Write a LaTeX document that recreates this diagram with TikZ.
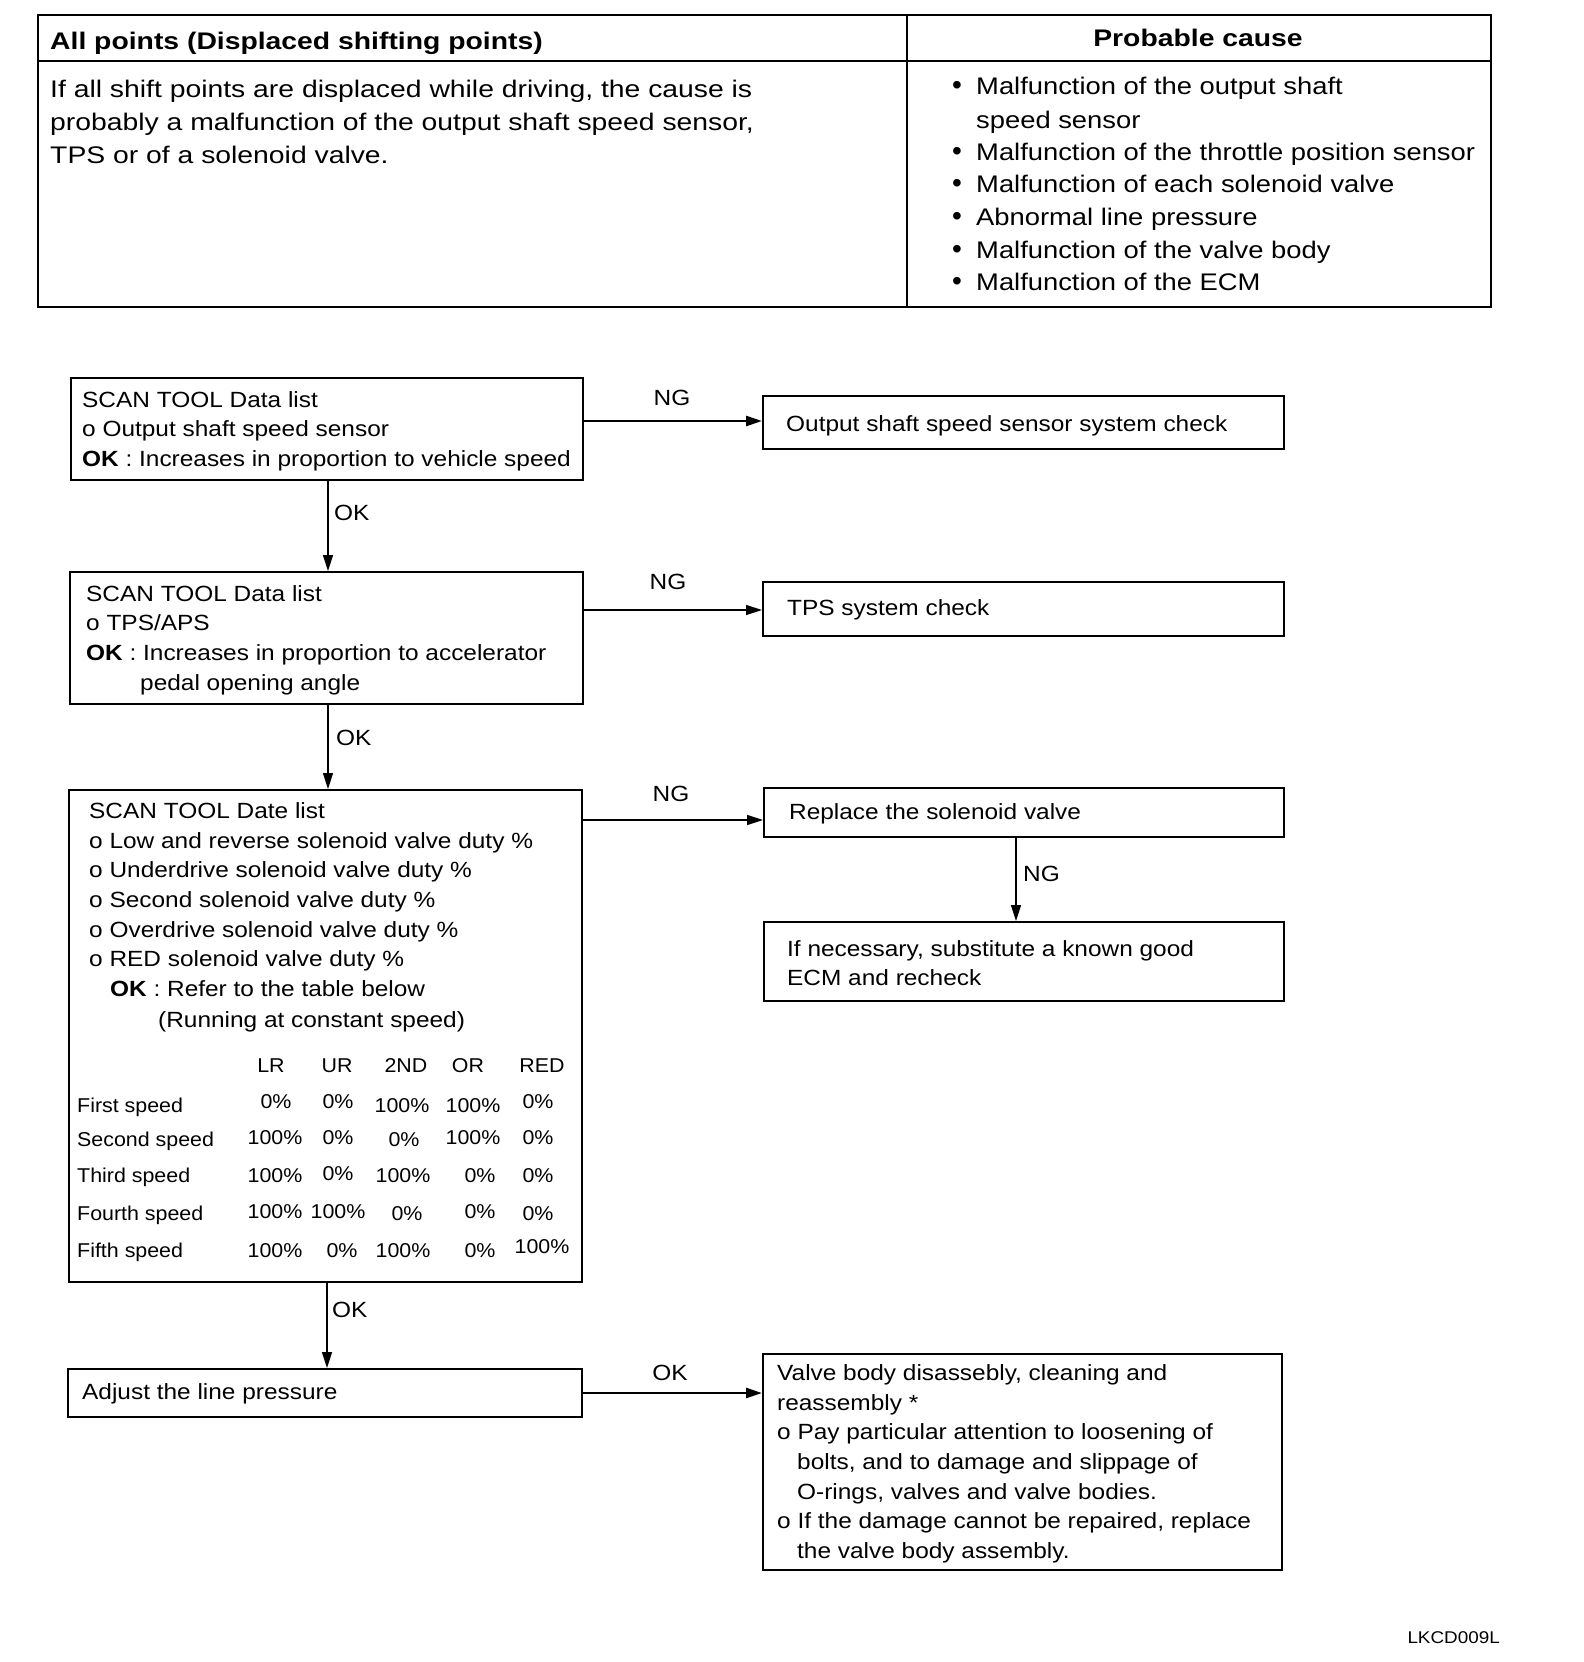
\documentclass[tikz,border=0pt]{standalone}
\usepackage{fontspec}
\setmainfont{Liberation Sans}
\newfontfamily\topf[FakeStretch=1.18]{Liberation Sans}
\newfontfamily\rightf[FakeStretch=1.14]{Liberation Sans}
\newfontfamily\flowf[FakeStretch=1.11]{Liberation Sans}
\newfontfamily\tabf[FakeStretch=1.07]{Liberation Sans}
\usetikzlibrary{arrows.meta}
\begin{document}
\begin{tikzpicture}[x=1pt,y=-1pt,
  box/.style={draw, line width=1.6pt, rectangle, anchor=north west, inner sep=0pt},
  ttxt/.style={anchor=base west, inner sep=0pt, font=\topf\fontsize{24}{28}\selectfont},
  rtxt/.style={anchor=base west, inner sep=0pt, font=\rightf\fontsize{24}{28}\selectfont},
  txt/.style={anchor=base west, inner sep=0pt, font=\flowf\fontsize{22}{26}\selectfont},
  tab/.style={anchor=base, inner sep=0pt, font=\tabf\fontsize{20}{24}\selectfont},
  tabl/.style={anchor=base west, inner sep=0pt, font=\tabf\fontsize{20}{24}\selectfont},
  lbl/.style={anchor=base, inner sep=0pt, font=\flowf\fontsize{22}{26}\selectfont},
  arr/.style={-{Triangle[length=16pt,width=10pt]}, line width=1.4pt},
  arrb/.style={-{Triangle[length=16pt,width=10pt]}, line width=2.6pt}
]
\useasboundingbox (0,0) rectangle (1584,1662);
% ---------- top table ----------
\node[box, minimum width=1453, minimum height=292] (tbl) at (37,14) {};
\draw[line width=1.6pt] (37,61) -- (1490,61);
\draw[line width=1.6pt] (907,14) -- (907,306);
\node[ttxt, font=\topf\fontsize{24}{28}\selectfont\bfseries] (h1) at (50,49) {All points (Displaced shifting points)};
\node[anchor=base, inner sep=0pt, font=\topf\fontsize{24}{28}\selectfont\bfseries] (h2) at (1198,47) {Probable cause};
\node[ttxt] (d1) at (50,97) {If all shift points are displaced while driving, the cause is};
\node[ttxt] (d2) at (50,130) {probably a malfunction of the output shaft speed sensor,};
\node[ttxt] (d3) at (50,163) {TPS or of a solenoid valve.};
\foreach \y/\t [count=\i] in {95/Malfunction of the output shaft, 160/Malfunction of the throttle position sensor, 192/Malfunction of each solenoid valve, 225/Abnormal line pressure, 258/Malfunction of the valve body, 290/Malfunction of the ECM}{
  \node[anchor=base, inner sep=0pt, font=\fontsize{28}{28}\selectfont] (bu\i) at (957,\y) {\textbullet};
  \node[rtxt] (pc\i) at (976,\y) {\t};
}
\node[rtxt] (pc0) at (976,128) {speed sensor};
% ---------- flowchart ----------
% box 1
\node[box, minimum width=512, minimum height=102] (b1) at (70,377) {};
\node[txt] (b1a) at (82,407) {SCAN TOOL Data list};
\node[txt] (b1b) at (82,436) {o Output shaft speed sensor};
\node[txt] (b1c) at (82,466) {\textbf{OK} : Increases in proportion to vehicle speed};
\node[box, minimum width=521, minimum height=53] (n1) at (762,395) {};
\node[txt] (n1a) at (786,431) {Output shaft speed sensor system check};
\coordinate (b1e) at (582,421);
\draw[arrb] (b1e) -- (b1e -| n1.west);
\node[lbl] (ng1) at (672,405) {NG};
% box 2
\node[box, minimum width=513, minimum height=132] (b2) at (69,571) {};
\node[txt] (b2a) at (86,601) {SCAN TOOL Data list};
\node[txt] (b2b) at (86,630) {o TPS/APS};
\node[txt] (b2c) at (86,660) {\textbf{OK} : Increases in proportion to accelerator};
\node[txt] (b2d) at (140,690) {pedal opening angle};
\node[box, minimum width=521, minimum height=54] (n2) at (762,581) {};
\node[txt] (n2a) at (787,615) {TPS system check};
\coordinate (b2e) at (582,610);
\draw[arr] (b2e) -- (b2e -| n2.west);
\node[lbl] (ng2) at (668,589) {NG};
\coordinate (k1) at (328,479);
\draw[arr] (k1) -- (k1 |- b2.north);
\node[txt] (ok1) at (334,520) {OK};
% box 3
\node[box, minimum width=513, minimum height=492] (b3) at (68,789) {};
\coordinate (k2) at (328,703);
\draw[arr] (k2) -- (k2 |- b3.north);
\node[txt] (ok2) at (336,745) {OK};
\node[txt] (b3a) at (89,818) {SCAN TOOL Date list};
\node[txt] (b3b) at (89,848) {o Low and reverse solenoid valve duty \%};
\node[txt] (b3c) at (89,877) {o Underdrive solenoid valve duty \%};
\node[txt] (b3d) at (89,907) {o Second solenoid valve duty \%};
\node[txt] (b3e) at (89,937) {o Overdrive solenoid valve duty \%};
\node[txt] (b3f) at (89,966) {o RED solenoid valve duty \%};
\node[txt] (b3g) at (110,996) {\textbf{OK} : Refer to the table below};
\node[txt] (b3h) at (158,1027) {(Running at constant speed)};
\foreach \x/\t in {271/LR,337/UR,406/2ND,468/OR,542/RED}{
  \node[tab] at (\x,1072) {\t};
}
\foreach \y/\t in {1112/First speed,1146/Second speed,1182/Third speed,1220/Fourth speed,1257/Fifth speed}{
  \node[tabl] at (77,\y) {\t};
}
\foreach \x/\y/\t in {
 276/1108/0\%, 338/1108/0\%, 402/1112/100\%, 473/1112/100\%, 538/1108/0\%,
 275/1144/100\%, 338/1144/0\%, 404/1146/0\%, 473/1144/100\%, 538/1144/0\%,
 275/1182/100\%, 338/1180/0\%, 403/1182/100\%, 480/1182/0\%, 538/1182/0\%,
 275/1218/100\%, 338/1218/100\%, 407/1220/0\%, 480/1218/0\%, 538/1220/0\%,
 275/1257/100\%, 342/1257/0\%, 403/1257/100\%, 480/1257/0\%, 542/1253/100\%}{
  \node[tab] at (\x,\y) {\t};
}
\node[box, minimum width=520, minimum height=49] (n3) at (763,787) {};
\node[txt] (n3a) at (789,819) {Replace the solenoid valve};
\coordinate (b3e) at (581,820);
\draw[arr] (b3e) -- (b3e -| n3.west);
\node[lbl] (ng3) at (671,801) {NG};
\node[box, minimum width=520, minimum height=79] (n4) at (763,921) {};
\node[txt] (n4a) at (787,956) {If necessary, substitute a known good};
\node[txt] (n4b) at (787,985) {ECM and recheck};
\coordinate (r1) at (1016,836);
\draw[arr] (r1) -- (r1 |- n4.north);
\node[txt] (ng4) at (1023,881) {NG};
% box 4
\node[box, minimum width=514, minimum height=48] (b4) at (67,1368) {};
\node[txt] (b4a) at (82,1399) {Adjust the line pressure};
\coordinate (k3) at (327,1281);
\draw[arr] (k3) -- (k3 |- b4.north);
\node[txt] (ok3) at (332,1317) {OK};
\node[box, minimum width=519, minimum height=216] (n5) at (762,1353) {};
\node[txt] (n5a) at (777,1380) {Valve body disassebly, cleaning and};
\node[txt] (n5b) at (777,1410) {reassembly *};
\node[txt] (n5c) at (777,1439) {o Pay particular attention to loosening of};
\node[txt] (n5d) at (797,1469) {bolts, and to damage and slippage of};
\node[txt] (n5e) at (797,1499) {O-rings, valves and valve bodies.};
\node[txt] (n5f) at (777,1528) {o If the damage cannot be repaired, replace};
\node[txt] (n5g) at (797,1558) {the valve body assembly.};
\coordinate (b4e) at (581,1393);
\draw[arrb] (b4e) -- (b4e -| n5.west);
\node[lbl] (ok4) at (670,1380) {OK};
\node[anchor=base east, inner sep=0pt, font=\flowf\fontsize{17}{18}\selectfont] (code) at (1500,1643) {LKCD009L};
\end{tikzpicture}
\end{document}
